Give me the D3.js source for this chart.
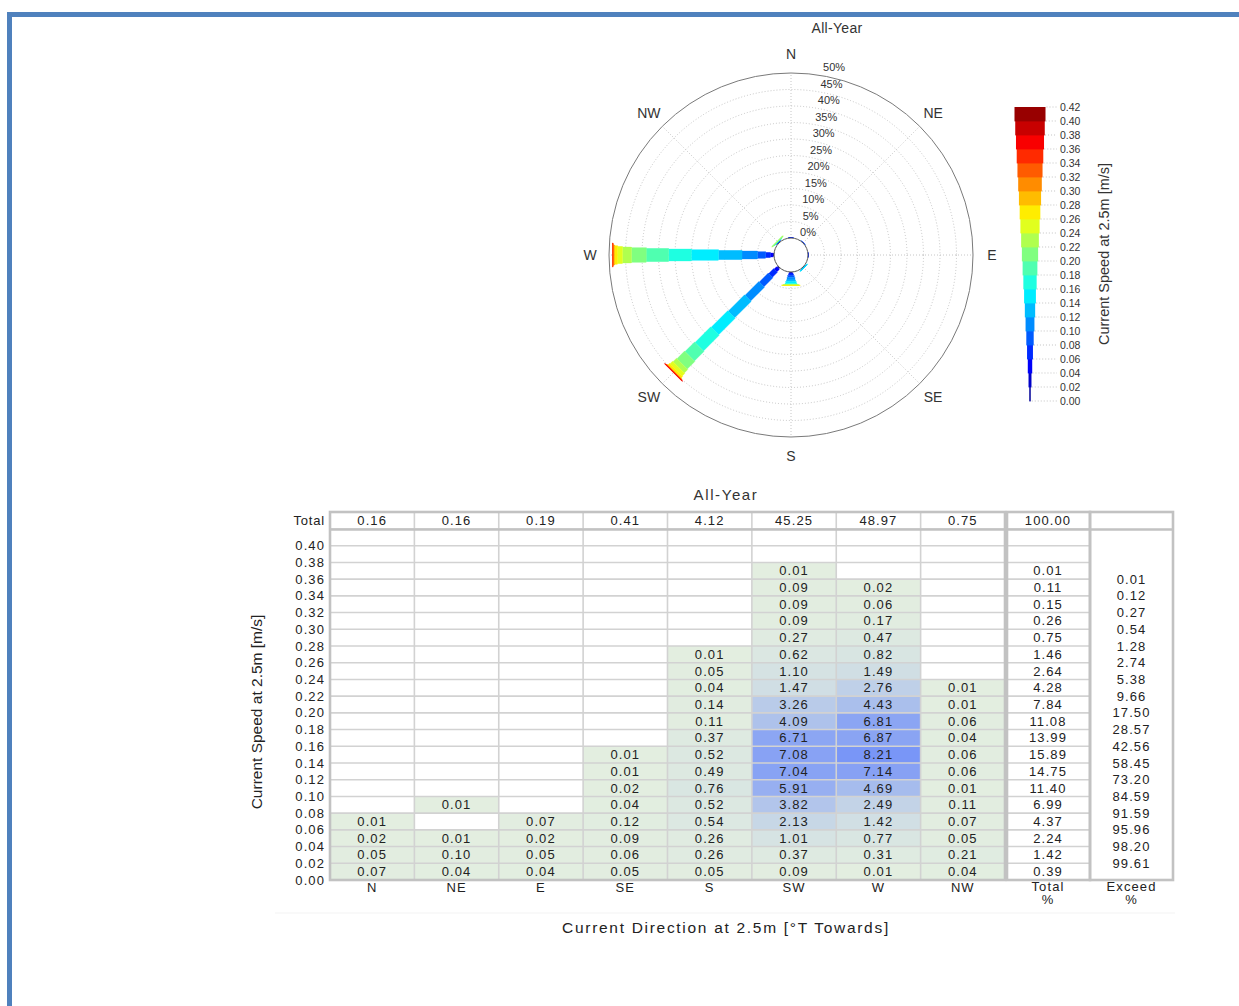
<!DOCTYPE html>
<html><head><meta charset="utf-8">
<script src="https://cdn.jsdelivr.net/npm/d3@7"></script>
<style>
html,body{margin:0;padding:0;background:#fff;}
svg{display:block;font-family:"Liberation Sans",Arial,sans-serif;}
</style></head>
<body><svg id="c" width="1239" height="1006"></svg>
<script>
// ---------- DATA ----------
const directions = ["N","NE","E","SE","S","SW","W","NW"];
const speedBins = [0.00,0.02,0.04,0.06,0.08,0.10,0.12,0.14,0.16,0.18,0.20,0.22,0.24,0.26,0.28,0.30,0.32,0.34,0.36,0.38,0.40];
// percentage per speed bin (from 0.00 upward), null = empty
const valN  = [0.07,0.05,0.02,0.01];
const valNE = [0.04,0.10,0.01,null,0.01];
const valE  = [0.04,0.05,0.02,0.07];
const valSE = [0.05,0.06,0.09,0.12,0.04,0.02,0.01,0.01];
const valS  = [0.05,0.26,0.26,0.54,0.52,0.76,0.49,0.52,0.37,0.11,0.14,0.04,0.05,0.01];
const valSW = [0.09,0.37,1.01,2.13,3.82,5.91,7.04,7.08,6.71,4.09,3.26,1.47,1.10,0.62,0.27,0.09,0.09,0.09,0.01];
const valW  = [0.01,0.31,0.77,1.42,2.49,4.69,7.14,8.21,6.87,6.81,4.43,2.76,1.49,0.82,0.47,0.17,0.06,0.02];
const valNW = [0.04,0.21,0.05,0.07,0.11,0.01,0.06,0.06,0.04,0.06,0.01,0.01];
const dirTotals = [0.16,0.16,0.19,0.41,4.12,45.25,48.97,0.75];
const rowTotals = [0.39,1.42,2.24,4.37,6.99,11.40,14.75,15.89,13.99,11.08,7.84,4.28,2.64,1.46,0.75,0.26,0.15,0.11,0.01,null,null];
const grandTotal = "100.00";
const exceedSpeeds = [0.02,0.04,0.06,0.08,0.10,0.12,0.14,0.16,0.18,0.20,0.22,0.24,0.26,0.28,0.30,0.32,0.34,0.36];
const exceedVals = [99.61,98.20,95.96,91.59,84.59,73.20,58.45,42.56,28.57,17.50,9.66,5.38,2.74,1.28,0.54,0.27,0.12,0.01];
const ringTicks = [0,5,10,15,20,25,30,35,40,45,50];
const speedTicks = [0.00,0.02,0.04,0.06,0.08,0.10,0.12,0.14,0.16,0.18,0.20,0.22,0.24,0.26,0.28,0.30,0.32,0.34,0.36,0.38,0.40,0.42];
const tableTicks = [0.00,0.02,0.04,0.06,0.08,0.10,0.12,0.14,0.16,0.18,0.20,0.22,0.24,0.26,0.28,0.30,0.32,0.34,0.36,0.38,0.40];
const allVals = [valN,valNE,valE,valSE,valS,valSW,valW,valNW];

// ---------- helpers ----------
function jet(t){
  const c = v => Math.max(0, Math.min(1, v));
  const r = c(1.5 - Math.abs(4*t-3)), g = c(1.5 - Math.abs(4*t-2)), b = c(1.5 - Math.abs(4*t-1));
  return d3.rgb(r*255, g*255, b*255).formatHex();
}
const binColor = i => jet((i+0.5)/21);
const fmt = d3.format(".2f");

const svg = d3.select("#c");
svg.append("rect").attr("width",1239).attr("height",1006).attr("fill","#fff");
// page border
svg.append("rect").attr("x",7).attr("y",12).attr("width",1232).attr("height",5).attr("fill","#4f81bd");
svg.append("rect").attr("x",7).attr("y",12).attr("width",5).attr("height",994).attr("fill","#4f81bd");

// ---------- POLAR ----------
const cx = 791, cy = 255;
const rScale = d3.scaleLinear().domain([0,50]).range([17,182]);
const pg = svg.append("g").attr("transform",`translate(${cx},${cy})`);
svg.append("text").attr("x",837).attr("y",33).attr("text-anchor","middle")
  .attr("font-size",14).attr("letter-spacing","0.3px").attr("fill","#333").text("All-Year");

// rings
pg.selectAll("circle.ring").data(ringTicks.filter(d=>d>0 && d<50)).join("circle")
  .attr("r",d=>rScale(d)).attr("fill","none").attr("stroke","#b8b8b8")
  .attr("stroke-width",0.8).attr("stroke-dasharray","1,2");
// spokes
pg.selectAll("line.spoke").data(directions).join("line")
  .attr("x1",(d,i)=>rScale(0)*Math.sin(i*Math.PI/4)).attr("y1",(d,i)=>-rScale(0)*Math.cos(i*Math.PI/4))
  .attr("x2",(d,i)=>rScale(50)*Math.sin(i*Math.PI/4)).attr("y2",(d,i)=>-rScale(50)*Math.cos(i*Math.PI/4))
  .attr("stroke","#b8b8b8").attr("stroke-width",0.8).attr("stroke-dasharray","1,2");
pg.append("circle").attr("r",rScale(50)).attr("fill","none").attr("stroke","#7a7a7a").attr("stroke-width",1);

// petals
const petalW = d3.scaleLinear().domain([0,0.42]).range([0,28]);
allVals.forEach((vals,di)=>{
  const g = pg.append("g").attr("transform",`rotate(${di*45})`);
  let cum = 0;
  vals.forEach((v,bi)=>{
    if(v==null) return;
    const r1 = rScale(cum), r2 = rScale(cum+v);
    const w = Math.max(1.2, petalW(speedBins[bi]+0.02));
    g.append("rect").attr("x",-w/2).attr("y",-r2).attr("width",w).attr("height",Math.max(0.6,r2-r1))
      .attr("fill",binColor(bi)).attr("stroke",binColor(bi)).attr("stroke-width",0.3);
    cum += v;
  });
});
pg.append("circle").attr("r",rScale(0)).attr("fill","#fff").attr("stroke","#555").attr("stroke-width",1);

// ring labels
pg.selectAll("text.rl").data(ringTicks).join("text")
  .attr("x",d=>17+ (rScale(d)-17)*0.158).attr("y",d=>-rScale(d)-2)
  .attr("text-anchor","middle").attr("font-size",11).attr("fill","#333").text(d=>d+"%");
// compass labels
pg.selectAll("text.cl").data(directions).join("text")
  .attr("x",(d,i)=>201*Math.sin(i*Math.PI/4)).attr("y",(d,i)=>-201*Math.cos(i*Math.PI/4)+5)
  .attr("text-anchor","middle").attr("font-size",14).attr("fill","#333").text(d=>d);

// colorbar
const cbY = d3.scaleLinear().domain([0,0.42]).range([401,107]);
const cbW = d3.scaleLinear().domain([0,0.42]).range([0,31]);
const cbX = 1030;
speedBins.forEach((s,i)=>{
  const w = Math.max(1.5, cbW(s+0.02));
  svg.append("rect").attr("x",cbX-w/2).attr("y",cbY(s+0.02)).attr("width",w)
    .attr("height",cbY(s)-cbY(s+0.02)+0.4).attr("fill",binColor(i));
});
speedTicks.forEach(s=>{
  const w = Math.max(1.5, cbW(Math.min(0.42,s)));
  svg.append("line").attr("x1",cbX+w/2+1).attr("x2",1057).attr("y1",cbY(s)).attr("y2",cbY(s))
    .attr("stroke","#aaa").attr("stroke-width",0.7).attr("stroke-dasharray","1,2");
  svg.append("text").attr("x",1060).attr("y",cbY(s)+4).attr("font-size",10.5).attr("fill","#333").text(fmt(s));
});
svg.append("text").attr("transform","translate(1109,254) rotate(-90)").attr("text-anchor","middle")
  .attr("font-size",14.5).attr("fill","#333").text("Current Speed at 2.5m [m/s]");

// ---------- TABLE ----------
const x = d3.scaleBand().domain(directions).range([330,1005]);
const y = d3.scaleLinear().domain([0,0.42]).range([880,529]);
const totX0 = 1006, totX1 = 1090, exX1 = 1173;
const hdrTop = 512, hdrBot = 529;
const vmax = d3.max(allVals.flat().filter(v=>v!=null));
const cellColor = d3.scaleLinear().domain([0,vmax]).range(["#e3eee0","#7996f7"]);
const tg = svg.append("g");
svg.append("text").attr("x",726).attr("y",500).attr("text-anchor","middle").attr("font-size",15)
  .attr("letter-spacing","1.6px").attr("fill","#333").text("All-Year");

// cells
allVals.forEach((vals,di)=>{
  speedBins.forEach((s,bi)=>{
    const v = vals[bi];
    if(v==null) return;
    tg.append("rect").attr("x",x(directions[di])).attr("y",y(s+0.02)).attr("width",x.bandwidth())
      .attr("height",y(s)-y(s+0.02)).attr("fill",cellColor(v));
  });
});
// thin grid
tableTicks.slice(1).concat([0.42]).forEach(s=>{
  tg.append("line").attr("x1",330).attr("x2",totX1).attr("y1",y(s)).attr("y2",y(s))
    .attr("stroke","#d2d2d2").attr("stroke-width",1.6);
});
directions.forEach((d,i)=>{ if(i>0) tg.append("line").attr("x1",x(d)).attr("x2",x(d)).attr("y1",hdrTop).attr("y2",880)
  .attr("stroke","#d2d2d2").attr("stroke-width",1.6); });
// thick frames
const frame = (x0,y0,x1,y1)=>tg.append("rect").attr("x",x0).attr("y",y0).attr("width",x1-x0).attr("height",y1-y0)
  .attr("fill","none").attr("stroke","#c2c2c2").attr("stroke-width",2.6);
frame(330,hdrTop,1005,880);
frame(totX0+1,hdrTop,totX1,880);
frame(totX1,hdrTop,exX1,880);
tg.append("line").attr("x1",330).attr("x2",exX1).attr("y1",hdrBot+0.5).attr("y2",hdrBot+0.5).attr("stroke","#c2c2c2").attr("stroke-width",2.6);

// values
const vt = {"font-size":13,"fill":"#222","text-anchor":"middle","letter-spacing":"1.1px"};
const addT = (xx,yy,t,extra)=>{ const e=tg.append("text").attr("x",xx).attr("y",yy).text(t);
  Object.entries(Object.assign({},vt,extra||{})).forEach(([k,v])=>e.attr(k,v)); return e; };
allVals.forEach((vals,di)=>{
  speedBins.forEach((s,bi)=>{
    const v = vals[bi]; if(v==null) return;
    addT(x(directions[di])+x.bandwidth()/2, (y(s)+y(s+0.02))/2+4.5, fmt(v));
  });
  addT(x(directions[di])+x.bandwidth()/2, 525, fmt(dirTotals[di]));
  addT(x(directions[di])+x.bandwidth()/2, 892, directions[di]);
});
rowTotals.forEach((v,bi)=>{ if(v==null) return;
  addT((totX0+totX1)/2, (y(speedBins[bi])+y(speedBins[bi]+0.02))/2+4.5, fmt(v)); });
addT((totX0+totX1)/2, 525, grandTotal);
exceedSpeeds.forEach((s,i)=> addT((totX1+exX1)/2, y(s)+4.5, fmt(exceedVals[i])));
addT((totX0+totX1)/2, 891, "Total"); addT((totX0+totX1)/2, 904, "%");
addT((totX1+exX1)/2, 891, "Exceed"); addT((totX1+exX1)/2, 904, "%");
// y ticks
tableTicks.forEach(s=> addT(325, y(s)+4.5, fmt(s), {"text-anchor":"end","letter-spacing":"1.1px"}));
addT(325, 525, "Total", {"text-anchor":"end","letter-spacing":"0.8px"});
// axis titles
svg.append("text").attr("transform","translate(262,712) rotate(-90)").attr("text-anchor","middle")
  .attr("font-size",15.5).attr("fill","#222").text("Current Speed at 2.5m [m/s]");
svg.append("text").attr("x",726).attr("y",933).attr("text-anchor","middle").attr("font-size",15.5)
  .attr("letter-spacing","1.7px").attr("fill","#222").text("Current Direction at 2.5m [°T Towards]");
svg.append("line").attr("x1",275).attr("x2",1175).attr("y1",913).attr("y2",913).attr("stroke","#f3f3f3");
</script></body></html>
